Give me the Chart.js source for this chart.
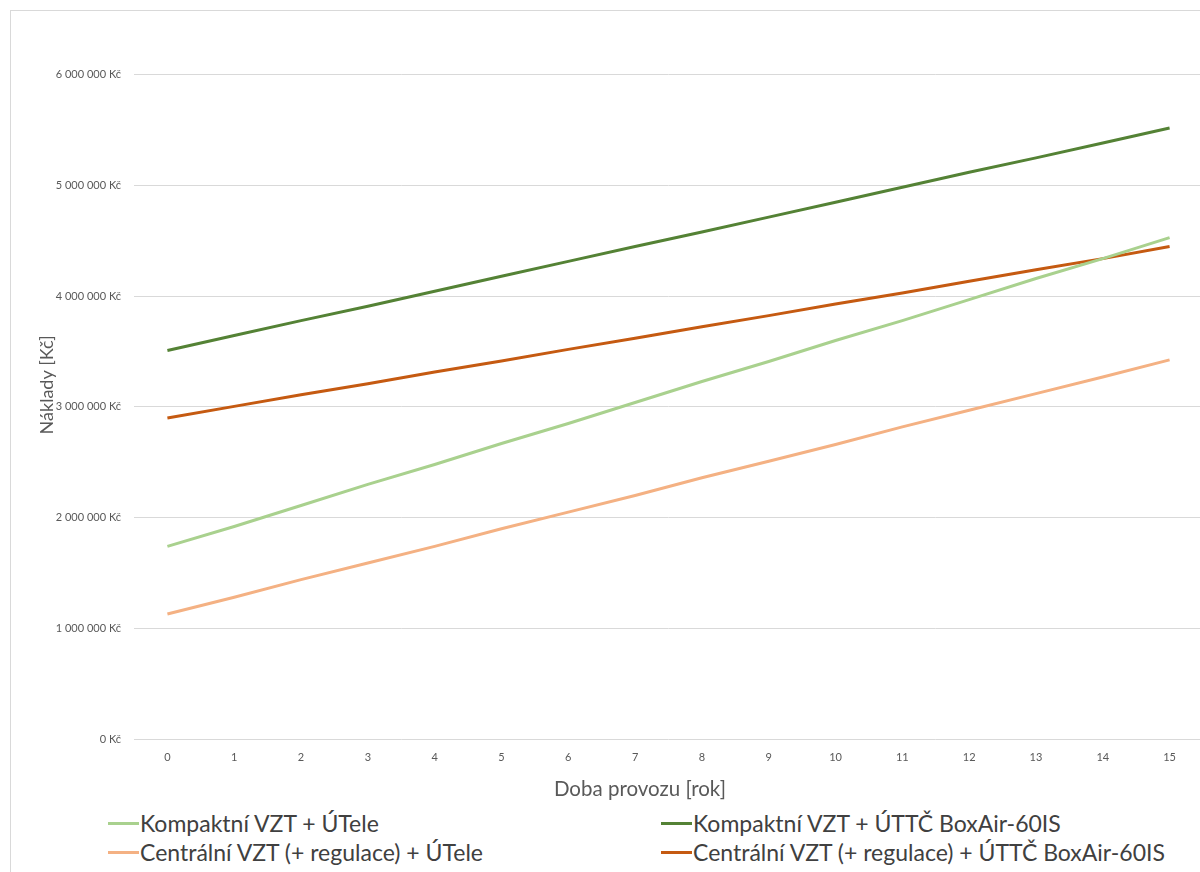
<!DOCTYPE html>
<html>
<head>
<meta charset="utf-8">
<script src="https://cdn.jsdelivr.net/npm/chart.js@4.4.1/dist/chart.umd.min.js"></script>
<style>
  html, body { margin: 0; padding: 0; background: #fff; overflow: hidden; width: 1200px; height: 872px; }
  #frame { position: absolute; left: 10px; top: 10px; width: 1210px; height: 880px; border: 1px solid #d9d9d9; }
  #graf { position: absolute; left: 11px; top: 11px; }
  .leg { position: absolute; display: flex; align-items: center; font-family: Lato, "Open Sans", sans-serif; font-size: 23px; color: #404040; line-height: 26px; white-space: nowrap; }
  .leg span.mk { display: inline-block; width: 31px; height: 3px; margin-right: 1px; }
  #osaX { position: absolute; left: 440px; width: 400px; top: 776px; text-align: center; font-family: Lato, sans-serif; font-size: 20.5px; line-height: 24px; color: #595959; }
</style>
</head>
<body>
<div id="frame"></div>
<canvas id="graf" width="1192" height="787"></canvas>
<div id="osaX">Doba provozu [rok]</div>
<div id="legenda"></div>
<script>
// roky provozu
const roky = ['0', '1', '2', '3', '4', '5', '6', '7', '8', '9', '10', '11', '12', '13', '14', '15'];

// náklady v Kč
const kompaktniUTele = [1740000, 1920000, 2110000, 2300000, 2480000, 2670000, 2850000, 3040000, 3230000, 3410000, 3600000, 3780000, 3970000, 4160000, 4340000, 4530000];
const kompaktniBoxAir = [3510000, 3645000, 3780000, 3910000, 4045000, 4180000, 4315000, 4450000, 4580000, 4715000, 4850000, 4985000, 5120000, 5250000, 5385000, 5520000];
const centralniUTele = [1130000, 1280000, 1440000, 1590000, 1740000, 1900000, 2050000, 2200000, 2360000, 2510000, 2660000, 2820000, 2970000, 3120000, 3270000, 3425000];
const centralniBoxAir = [2900000, 3005000, 3110000, 3210000, 3315000, 3415000, 3520000, 3620000, 3725000, 3825000, 3930000, 4030000, 4135000, 4240000, 4340000, 4450000];

const nazvy = ['Kompaktní VZT + ÚTele', 'Kompaktní VZT + ÚTTČ BoxAir-60IS', 'Centrální VZT (+ regulace) + ÚTele', 'Centrální VZT (+ regulace) + ÚTTČ BoxAir-60IS'];
const barvy = ['#a9d18e', '#548235', '#f4b183', '#c55a11'];
const rady = [kompaktniUTele, kompaktniBoxAir, centralniUTele, centralniBoxAir];

function formatKc(v) {
    return String(v).replace(/\B(?=(\d{3})+(?!\d))/g, ' ') + ' Kč';
}

const ctx = document.getElementById('graf').getContext('2d');
const graf = new Chart(ctx, {
    type: 'line',
    data: {
        labels: roky,
        datasets: rady.map((r, i) => ({
            label: nazvy[i],
            data: r,
            borderColor: barvy[i],
            backgroundColor: barvy[i],
            borderWidth: 3,
            pointRadius: 0,
            tension: 0,
            fill: false
        }))
    },
    options: {
        responsive: false,
        animation: false,
        layout: { padding: { top: 6, right: 0, bottom: 0, left: 0 } },
        plugins: { legend: { display: false }, tooltip: { enabled: false } },
        scales: {
            x: {
                offset: true,
                grid: { display: false, drawTicks: false },
                border: { display: false },
                ticks: { color: '#595959', padding: 12, font: { family: 'Lato', size: 11 } },
                afterFit(scale) { scale.height = 59; }
            },
            y: {
                min: 0,
                max: 6400000,
                ticks: {
                    stepSize: 200000,
                    color: '#595959',
                    padding: 13,
                    font: { family: 'Lato', size: 11 },
                    callback: v => (v % 1000000 === 0 ? formatKc(v) : null)
                },
                grid: { color: '#d9d9d9', lineWidth: 1, drawTicks: false },
                border: { display: false },
                title: { display: true, text: 'Náklady [Kč]', color: '#595959', padding: { top: 25, bottom: 0 }, font: { family: 'Lato', size: 18 } },
                afterFit(scale) { scale.width = 123; }
            }
        }
    }
});

// legenda ve dvou sloupcích
const pozice = [[108, 810], [661, 810], [108, 839], [661, 839]];
const leg = document.getElementById('legenda');
graf.data.datasets.forEach((ds, i) => {
    const d = document.createElement('div');
    d.className = 'leg';
    d.style.left = pozice[i][0] + 'px';
    d.style.top = pozice[i][1] + 'px';
    const mk = document.createElement('span');
    mk.className = 'mk';
    mk.style.background = ds.borderColor;
    d.appendChild(mk);
    d.appendChild(document.createTextNode(ds.label));
    leg.appendChild(d);
});
</script>
</body>
</html>
